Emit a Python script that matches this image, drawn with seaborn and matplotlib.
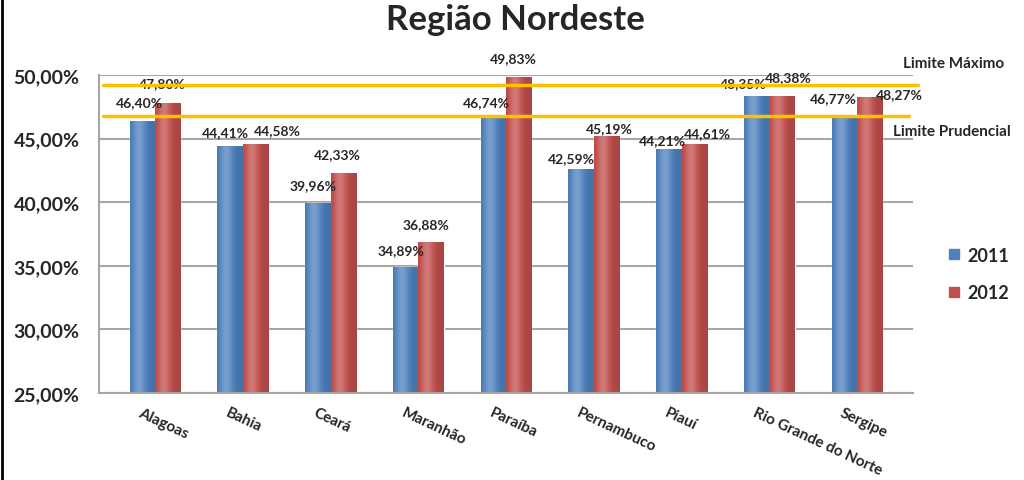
import pandas as pd
import numpy as np
import matplotlib.pyplot as plt
import matplotlib.colors as mcolors
import seaborn as sns
from matplotlib.lines import Line2D

# dados
estados = ['Alagoas', 'Bahia', 'Ceará', 'Maranhão', 'Paraíba',
           'Pernambuco', 'Piauí', 'Rio Grande do Norte', 'Sergipe']
v2011 = [46.40, 44.41, 39.96, 34.89, 46.74, 42.59, 44.21, 48.35, 46.77]
v2012 = [47.80, 44.58, 42.33, 36.88, 49.83, 45.19, 44.61, 48.38, 48.27]
anos = ['2011', '2012']
limite_maximo = 49.2
limite_prudencial = 46.75
yticks = [25, 30, 35, 40, 45, 50]

df = pd.DataFrame({
    'estado': estados * 2,
    'ano': [anos[0]] * len(estados) + [anos[1]] * len(estados),
    'valor': v2011 + v2012,
})

# deslocamento dos rotulos de valor (px): (dx, distancia acima da barra)
desloc = {
    '2011': [(-3, 13), (-5, 8), (-5, 12), (-5, 11), (-7, 8), (-10, 5), (-6, 3), (-13, 7), (-11, 12)],
    '2012': [(-5, 14), (22, 8), (-6, 12), (-5, 12), (-5, 13), (3, 2), (13, 4), (6, 13), (30, -3)],
}

def fmt(v):
    return f"{v:.2f}".replace('.', ',') + '%'

sns.set_style('white')
plt.rcParams['font.family'] = ['Lato', 'DejaVu Sans']

W, H = 1024, 481
fig = plt.figure(figsize=(W / 100, H / 100), dpi=100)
ax = fig.add_axes([99 / W, 1 - 394 / H, 814 / W, 318 / H])

cores = {'2011': '#4F81BD', '2012': '#C0504D'}
sns.barplot(data=df, x='estado', y='valor', hue='ano', palette=cores,
            width=0.58, ax=ax, legend=False, saturation=1)

px = 87.75  # pixels por categoria
ax.set_xlim(-56 / px, 8 + 56 / px)
ax.set_ylim(25, 50)

# gradiente nas barras
for cont, ano in zip(ax.containers, anos):
    base = np.array(mcolors.to_rgb(cores[ano]))
    t = np.linspace(0, 1, 64)
    luz = np.exp(-((t - 0.35) / 0.28) ** 2) * 0.35 - 0.12
    rgb = np.clip(base[None, :] + luz[:, None] * (1 - base[None, :] if True else 1), 0, 1)
    rgb = np.where(luz[:, None] < 0, base[None, :] * (1 + luz[:, None]), rgb)
    img = rgb[None, :, :]
    for b in cont:
        x0, w, h = b.get_x(), b.get_width(), b.get_height()
        im = ax.imshow(img, extent=[x0, x0 + w, 25, h], aspect='auto', zorder=2,
                       interpolation='bilinear')
        im.set_clip_path(b)

ax.set_yticks(yticks)
ax.set_yticklabels([f"{t},00%" for t in yticks], fontsize=14, fontweight='bold')
ax.yaxis.grid(True, color='#A6A6A6', linewidth=1.5)
ax.set_axisbelow(True)
ax.set_xlabel('')
ax.set_ylabel('')

# rotulos das categorias e ticks entre categorias
ax.set_xticks(np.arange(len(estados)) - 13 / px)
ax.set_xticklabels(estados, rotation=-25, ha='left', va='top', rotation_mode='anchor',
                   fontsize=11, fontweight='bold')
ax.tick_params(axis='x', length=0, pad=9)
ax.set_xticks(np.arange(len(estados) + 1) - 0.5 - 10 / px, minor=True)
ax.tick_params(axis='x', which='minor', length=5, color='#A6A6A6', width=1.2, direction='out')
ax.tick_params(axis='y', length=5, color='#A6A6A6', width=1.2, direction='out', pad=9)

for s in ['top', 'right']:
    ax.spines[s].set_visible(False)
for s in ['left', 'bottom']:
    ax.spines[s].set_color('#A6A6A6')
    ax.spines[s].set_linewidth(1.5)

# rotulos de valor
for cont, ano in zip(ax.containers, anos):
    for b, (dx, dy) in zip(cont, desloc[ano]):
        ax.annotate(fmt(b.get_height()), (b.get_x() + b.get_width() / 2, b.get_height()),
                    xytext=(dx * 0.72, dy * 0.72), textcoords='offset points',
                    ha='center', va='bottom', fontsize=10, fontweight='bold',
                    annotation_clip=False, zorder=4)

# limites
ax.plot([-52 / px, 8 + 61 / px], [limite_maximo, limite_maximo], color='#FFC000', lw=2.5,
        clip_on=False, zorder=5)
ax.plot([-52 / px, 8 + 52 / px], [limite_prudencial, limite_prudencial], color='#FFC000',
        lw=2.5, clip_on=False, zorder=5)
fig.text(903 / W, 1 - 64 / H, 'Limite Máximo', fontsize=11, fontweight='bold', va='center')
fig.text(893 / W, 1 - 132 / H, 'Limite Prudencial', fontsize=11, fontweight='bold', va='center')

# legenda
handles = [Line2D([], [], marker='s', ls='', color=cores[a], markersize=7.5) for a in anos]
fig.legend(handles, anos, loc='center left', bbox_to_anchor=(946 / W, 1 - 275 / H),
           frameon=False, prop={'size': 13, 'weight': 'bold'}, labelspacing=1.15,
           handletextpad=0.3, handlelength=0.9, borderpad=0, borderaxespad=0)

fig.text(515 / W, 1 - 20 / H, 'Região Nordeste', ha='center', va='center',
         fontsize=25, fontweight='bold')

# borda esquerda
fig.add_artist(Line2D([0.0015, 0.0015], [0, 1], color='black', lw=2))

fig.savefig('out.png', dpi=100)
